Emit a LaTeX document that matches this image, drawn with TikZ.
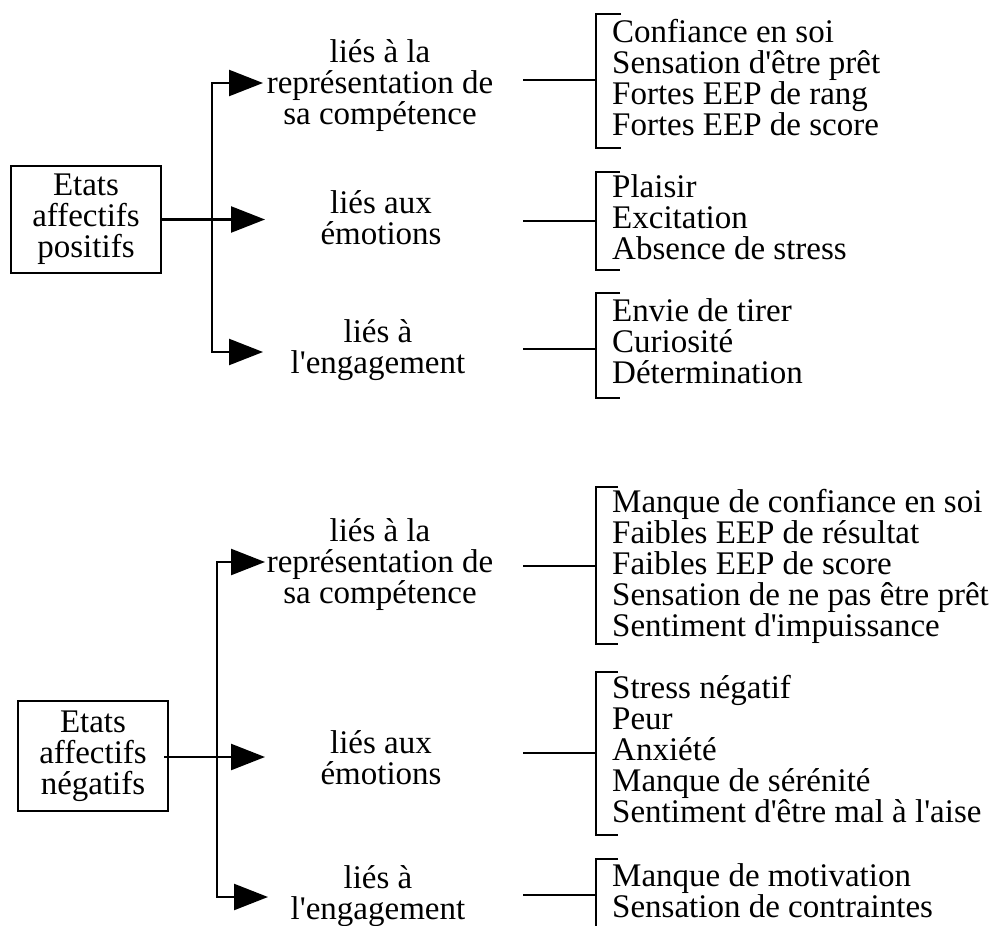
\documentclass[tikz,border=0pt]{standalone}
\usepackage{fontspec}
\setmainfont{Liberation Serif}[Ligatures=TeXOff]
\usetikzlibrary{arrows.meta}
\begin{document}
\begin{tikzpicture}[x=1pt,y=-1pt,
  every node/.style={font=\fontsize{33}{31}\selectfont, inner sep=0pt},
  line/.style={line width=2.4pt},
  arr/.style={line width=2.4pt, -{Triangle[length=34pt,width=26pt]}},
  lab/.style={align=center, anchor=base},
  items/.style={align=left, anchor=base west},
  box/.style={draw, line width=2.4pt, minimum width=150pt, align=center}]
\useasboundingbox (0,0) rectangle (991,926);
\clip (0,0) rectangle (991,926);

% ---------- positive ----------
\node[box, minimum height=107pt] (posbox) at (86,219.5) {Etats\\affectifs\\positifs};
\coordinate (pj) at (212,219.5);
\coordinate (pta) at (263,83);
\coordinate (ptb) at (265,219.5);
\coordinate (ptc) at (263,352);
\draw[arr] (posbox.east) -- (ptb);
\draw[arr] (pj) |- (pta);
\draw[arr] (pj) |- (ptc);

% anchor=base refers to the last line's baseline
\node[lab] (pl1) at (380,124) {liés à la\\représentation de\\sa compétence};
\node[lab] (pl2) at (381,244) {liés aux\\émotions};
\node[lab] (pl3) at (378,373) {liés à\\l'engagement};

\node[items] (pi1) at (612,135) {Confiance en soi\\Sensation d'être prêt\\Fortes EEP de rang\\Fortes EEP de score};
\node[items] (pi2) at (612,259) {Plaisir\\Excitation\\Absence de stress};
\node[items] (pi3) at (612,383) {Envie de tirer\\Curiosité\\Détermination};

\coordinate (pc1) at (523,80);  \coordinate (pb1) at (596,80);
\coordinate (pc2) at (523,221); \coordinate (pb2) at (596,221);
\coordinate (pc3) at (523,349); \coordinate (pb3) at (596,349);
\draw[line] (pc1) -- (pb1);
\draw[line] (pc2) -- (pb2);
\draw[line] (pc3) -- (pb3);
\draw[line] (621,14) -- (596,14) -- (596,148) -- (621,148);
\draw[line] (620,172) -- (596,172) -- (596,270) -- (620,270);
\draw[line] (620,293) -- (596,293) -- (596,398) -- (620,398);

% ---------- negative ----------
\node[box, minimum height=110pt] (negbox) at (93,756) {Etats\\affectifs\\négatifs};
\coordinate (nj) at (217,757);
\coordinate (nta) at (265,562);
\coordinate (ntb) at (265,757);
\coordinate (ntc) at (268,897);
\draw[arr] ([xshift=-5pt]negbox.east |- nj) -- (ntb);
\draw[arr] (nj) |- (nta);
\draw[arr] (nj) |- (ntc);

\node[lab] (nl1) at (380,603) {liés à la\\représentation de\\sa compétence};
\node[lab] (nl2) at (381,784) {liés aux\\émotions};
\node[lab] (nl3) at (378,919) {liés à\\l'engagement};

\node[items] (ni1) at (612,636) {Manque de confiance en soi\\Faibles EEP de résultat\\Faibles EEP de score\\Sensation de ne pas être prêt\\Sentiment d'impuissance};
\node[items] (ni2) at (612,822) {Stress négatif\\Peur\\Anxiété\\Manque de sérénité\\Sentiment d'être mal à l'aise};
\node[items] (ni3) at (612,917) {Manque de motivation\\Sensation de contraintes};

\coordinate (nc1) at (523,566); \coordinate (nb1) at (596,566);
\coordinate (nc2) at (523,753); \coordinate (nb2) at (596,753);
\coordinate (nc3) at (523,895); \coordinate (nb3) at (596,895);
\draw[line] (nc1) -- (nb1);
\draw[line] (nc2) -- (nb2);
\draw[line] (nc3) -- (nb3);
\draw[line] (618,487) -- (596,487) -- (596,644) -- (618,644);
\draw[line] (618,672) -- (596,672) -- (596,835) -- (618,835);
\draw[line] (618,859) -- (596,859) -- (596,950);
\end{tikzpicture}
\end{document}
